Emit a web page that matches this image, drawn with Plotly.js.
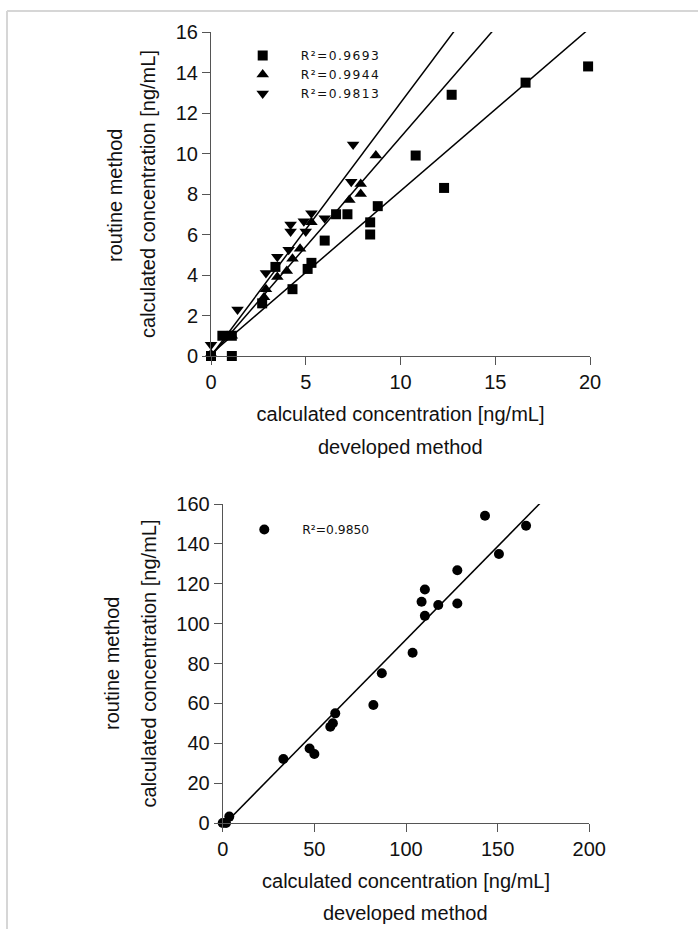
<!DOCTYPE html>
<html>
<head>
<meta charset="utf-8">
<script src="https://cdn.plot.ly/plotly-3.0.1.min.js"></script>
<style>html,body{margin:0;padding:0;background:#fff;}#chart{width:698px;height:929px;}
.legendtext{letter-spacing:1.4px;}</style>
</head>
<body>
<div id="chart"></div>
<script>
// ---- Top panel data (developed vs routine, ng/mL) ----
const squareX = [0, 1.1, 0.6, 1.1, 2.7, 3.4, 4.3, 5.1, 5.3, 6.0, 6.6, 7.2, 8.4, 8.4, 8.8, 10.8, 12.3, 12.7, 16.6, 19.9];
const squareY = [0, 0, 1.0, 1.0, 2.6, 4.4, 3.3, 4.3, 4.6, 5.7, 7.0, 7.0, 6.6, 6.0, 7.4, 9.9, 8.3, 12.9, 13.5, 14.3];
const triUpX = [0, 1.1, 2.8, 2.9, 3.5, 4.0, 4.3, 4.7, 5.3, 7.3, 7.9, 7.9, 8.7];
const triUpY = [0.1, 1.0, 2.9, 3.3, 3.9, 4.2, 4.8, 5.3, 6.6, 7.7, 8.0, 8.5, 9.9];
const triDownX = [0, 1.4, 2.9, 3.5, 4.1, 4.2, 4.2, 4.9, 5.0, 5.3, 6.0, 7.4, 7.5];
const triDownY = [0.55, 2.3, 4.1, 4.9, 5.25, 6.15, 6.5, 6.65, 6.15, 7.05, 6.8, 8.6, 10.45];
const topNames = ["R²=0.9693", "R²=0.9944", "R²=0.9813"];
const topSlopes = [0.805, 1.08, 1.25];
const topIntercepts = [0.1, 0.0, 0.0];
const topXTicks = [0, 5, 10, 15, 20];
const topYTicks = [0, 2, 4, 6, 8, 10, 12, 14, 16];

// ---- Bottom panel data ----
const circleX = [0, 1.8, 3.6, 33.1, 47.4, 50.0, 58.7, 60.1, 61.4, 82.2, 86.8, 103.6, 108.5, 110.3, 110.3, 117.6, 128.0, 128.0, 143.1, 150.7, 165.5];
const circleY = [0, 0, 3.2, 32.1, 37.4, 34.6, 48.3, 50.0, 55.0, 59.2, 75.1, 85.4, 111.0, 117.1, 103.9, 109.3, 126.8, 110.1, 154.1, 134.9, 149.1];
const bottomName = "R²=0.9850";
const bottomSlope = 0.935;
const bottomIntercept = -1.5;
const botXTicks = [0, 50, 100, 150, 200];
const botYTicks = [0, 20, 40, 60, 80, 100, 120, 140, 160];

const xTitle = "calculated concentration [ng/mL]";
const xTitle2 = "developed method";
const yTitle2 = "routine method";

// ---- layout helpers (pixel -> paper) ----
const W = 698, H = 929;
const px = v => v / W;
const py = v => (H - v) / H;

function fitLine(slope, intercept, xs) {
  return { x: xs, y: xs.map(v => slope * v + intercept) };
}

const markerBase = { color: '#000', line: { width: 0 } };
const traces = [];
const topSymbols = ['square', 'triangle-up', 'triangle-down'];
const topXs = [squareX, triUpX, triDownX];
const topYs = [squareY, triUpY, triDownY];
for (let i = 0; i < 3; i++) {
  traces.push({
    type: 'scatter', mode: 'markers', x: topXs[i], y: topYs[i], name: topNames[i],
    xaxis: 'x', yaxis: 'y', legend: 'legend', cliponaxis: false,
    marker: Object.assign({ symbol: topSymbols[i], size: i === 0 ? 10 : 11 }, markerBase)
  });
}
for (let i = 0; i < 3; i++) {
  const l = fitLine(topSlopes[i], topIntercepts[i], [topXTicks[0], topXTicks[topXTicks.length - 1]]);
  traces.push({
    type: 'scatter', mode: 'lines', x: l.x, y: l.y, xaxis: 'x', yaxis: 'y',
    showlegend: false, hoverinfo: 'skip', line: { color: '#000', width: 1.5 }
  });
}
traces.push({
  type: 'scatter', mode: 'markers', x: circleX, y: circleY, name: bottomName,
  xaxis: 'x2', yaxis: 'y2', legend: 'legend2', cliponaxis: false,
  marker: Object.assign({ symbol: 'circle', size: 10 }, markerBase)
});
const bl = fitLine(bottomSlope, bottomIntercept, [botXTicks[0], botXTicks[botXTicks.length - 1]]);
traces.push({
  type: 'scatter', mode: 'lines', x: bl.x, y: bl.y, xaxis: 'x2', yaxis: 'y2',
  showlegend: false, hoverinfo: 'skip', line: { color: '#000', width: 1.5 }
});

const tickFont = { family: 'Liberation Sans, Arial, sans-serif', size: 20, color: '#111' };
const axisCommon = {
  showline: true, linecolor: '#555', linewidth: 1, ticks: 'outside', ticklen: 8, tickcolor: '#555',
  showgrid: false, zeroline: false, tickfont: tickFont, tickmode: 'array'
};
const legendFont = { family: 'DejaVu Sans, sans-serif', size: 12.3, color: '#111' };

const layout = {
  width: W, height: H,
  margin: { l: 0, r: 0, t: 0, b: 0 },
  paper_bgcolor: '#fff', plot_bgcolor: '#fff',
  font: { family: 'Liberation Sans, Arial, sans-serif', color: '#111' },
  xaxis: Object.assign({}, axisCommon, {
    domain: [px(211), px(590)], range: [0, 20], tickvals: topXTicks, anchor: 'y',
    title: { text: xTitle, font: tickFont, standoff: 14 }
  }),
  yaxis: Object.assign({}, axisCommon, {
    domain: [py(356), py(32)], range: [0, 16], tickvals: topYTicks, anchor: 'x',
    title: { text: xTitle, font: tickFont, standoff: 14 }
  }),
  xaxis2: Object.assign({}, axisCommon, {
    domain: [px(222.7), px(589.3)], range: [0, 200], tickvals: botXTicks, anchor: 'y2',
    title: { text: xTitle, font: tickFont, standoff: 14 }
  }),
  yaxis2: Object.assign({}, axisCommon, {
    domain: [py(823), py(504)], range: [0, 160], tickvals: botYTicks, anchor: 'x2',
    title: { text: xTitle, font: tickFont, standoff: 14 }
  }),
  legend: {
    x: px(224.7), y: py(41), xanchor: 'left', yanchor: 'top', bgcolor: 'rgba(0,0,0,0)',
    font: legendFont, itemwidth: 66
  },
  legend2: {
    x: px(226.3), y: py(515), xanchor: 'left', yanchor: 'top', bgcolor: 'rgba(0,0,0,0)',
    font: legendFont, itemwidth: 66
  },
  annotations: [
    { text: yTitle2, xref: 'paper', yref: 'paper', x: px(115), y: py(196), textangle: -90,
      showarrow: false, font: tickFont, xanchor: 'center', yanchor: 'middle' },
    { text: xTitle2, xref: 'paper', yref: 'paper', x: px(400), y: py(447),
      showarrow: false, font: tickFont, xanchor: 'center', yanchor: 'middle' },
    { text: yTitle2, xref: 'paper', yref: 'paper', x: px(112), y: py(664), textangle: -90,
      showarrow: false, font: tickFont, xanchor: 'center', yanchor: 'middle' },
    { text: xTitle2, xref: 'paper', yref: 'paper', x: px(406), y: py(913),
      showarrow: false, font: tickFont, xanchor: 'center', yanchor: 'middle' }
  ],
  shapes: [
    { type: 'line', xref: 'paper', yref: 'paper', x0: px(7), x1: px(7), y0: 0, y1: py(11),
      line: { color: '#d6d6d6', width: 2 } },
    { type: 'line', xref: 'paper', yref: 'paper', x0: px(7), x1: 1, y0: py(11), y1: py(11),
      line: { color: '#d6d6d6', width: 2 } }
  ]
};

Plotly.newPlot('chart', traces, layout, { staticPlot: true, displayModeBar: false });
</script>
</body>
</html>
